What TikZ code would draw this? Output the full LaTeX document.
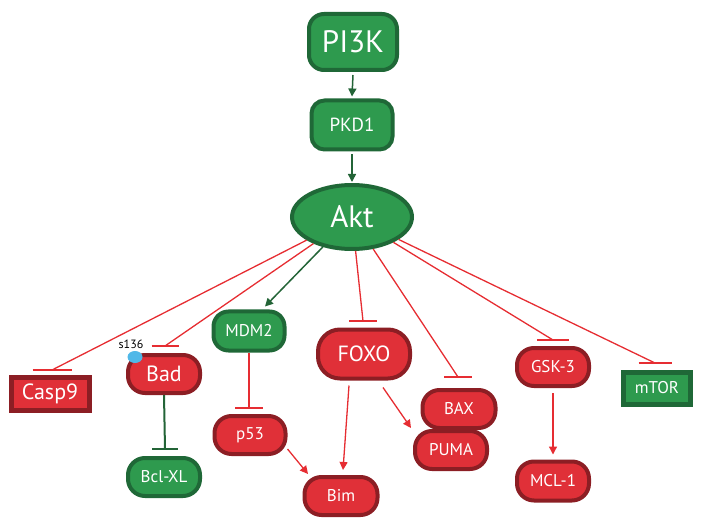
\documentclass[tikz,border=0pt]{standalone}
\usepackage{fontspec}
\setmainfont{PT Sans}
\usetikzlibrary{shapes.geometric,arrows.meta}
\definecolor{gfill}{RGB}{46,154,78}
\definecolor{gdraw}{RGB}{31,104,55}
\definecolor{rfill}{RGB}{224,48,56}
\definecolor{rdraw}{RGB}{140,30,36}
\definecolor{rline}{RGB}{230,45,50}
\definecolor{gline}{RGB}{35,100,55}
\definecolor{bdot}{RGB}{80,184,232}
\tikzset{
  base/.style={line width=4pt, text=white, inner sep=0pt, align=center},
  gbox/.style={base, fill=gfill, draw=gdraw, rounded corners=15pt},
  rbox/.style={base, fill=rfill, draw=rdraw, rounded corners=17pt},
  grect/.style={base, fill=gfill, draw=gdraw, rectangle, line width=5pt},
  rrect/.style={base, fill=rfill, draw=rdraw, rectangle, line width=5pt},
  sz/.style n args={2}{minimum width=#1, minimum height=#2},
  fbig/.style={font=\fontsize{31}{31}\selectfont},
  fmid/.style={font=\fontsize{22}{22}\selectfont},
  fsm/.style={font=\fontsize{17}{17}\selectfont},
  ract/.style={draw=rline, line width=1.3pt, -{Triangle[length=8pt,width=8pt]}},
  gact/.style={draw=gline, line width=1.5pt, -{Triangle[length=8pt,width=8pt]}},
  rinh/.style={draw=rline, line width=1.3pt},
  ginh/.style={draw=gline, line width=2pt},
  rbar/.style={draw=rline, line width=2.2pt},
  gbar/.style={draw=gline, line width=2.6pt},
}
\begin{document}
\begin{tikzpicture}[x=1pt,y=-1pt]
\useasboundingbox (0,0) rectangle (704,529);
% nodes
\node[gbox, sz={88pt}{56pt}, fbig] (PI3K) at (353,42) {PI3K};
\node[gbox, sz={81pt}{49pt}, font=\fontsize{19}{19}\selectfont, rounded corners=13pt] (PKD1) at (352,125) {PKD1};
\node[base, ellipse, fill=gfill, draw=gdraw, sz={120pt}{64pt}, fbig] (Akt) at (352,217) {Akt};
\node[rrect, sz={78pt}{33pt}, fmid] (Casp9) at (50,394) {Casp9};
\node[rbox, sz={72pt}{38pt}, fmid] (Bad) at (164,374) {Bad};
\node[gbox, sz={72pt}{38pt}, fsm, rounded corners=17pt] (BclXL) at (164,477) {Bcl-XL};
\node[gbox, sz={71pt}{39pt}, fsm] (MDM2) at (249,331) {MDM2};
\node[rbox, sz={71pt}{38pt}, fsm] (p53) at (250,435) {p53};
\node[rbox, sz={92pt}{49pt}, fmid, rounded corners=22pt] (FOXO) at (364,354) {FOXO};
\node[rbox, sz={73pt}{38pt}, fsm] (Bim) at (341,496) {Bim};
\node[rbox, sz={73pt}{38pt}, fsm] (BAX) at (459,409) {BAX};
\node[rbox, sz={72pt}{38pt}, fsm] (PUMA) at (451,450) {PUMA};
\node[rbox, sz={72pt}{38pt}, fsm] (GSK3) at (553,367) {GSK-3};
\node[rbox, sz={72pt}{39pt}, fsm] (MCL1) at (553,481) {MCL-1};
\node[grect, sz={67pt}{32pt}, fsm] (mTOR) at (657,388) {mTOR};
% phospho site
\node[fill=bdot, ellipse, inner sep=0pt, minimum width=15pt, minimum height=12pt] (site) at (135,357) {};
\node[font=\fontsize{12}{12}\selectfont, text=black, inner sep=0pt] (s136) at (131,344) {s136};
% bar coordinates
\coordinate (casp9bar) at (52,370);
\coordinate (badbar) at (165,346);
\coordinate (bclbar) at (165,449);
\coordinate (p53bar) at (249,408);
\coordinate (foxobar) at (363,321);
\coordinate (baxbar) at (458,377);
\coordinate (gskbar) at (553,340);
\coordinate (mtorbar) at (655,363);
% activation arrows
\draw[gact] ([shift={(0,3)}]PI3K.south) -- ([shift={(0,-2)}]PKD1.north);
\draw[gact] ([shift={(0,3)}]PKD1.south) -- ([shift={(0,-1)}]Akt.north);
\draw[gact] (Akt) -- ([shift={(16,-3)}]MDM2.north);
\draw[ract] ([shift={(-15,5)}]FOXO.south) -- ([shift={(2,-5)}]Bim.north);
\draw[ract] ([shift={(19,7)}]FOXO.south) -- ([shift={(-2,-1)}]PUMA.north west);
\draw[ract] ([shift={(0,14)}]p53.east) -- ([shift={(-33,-1)}]Bim.north);
\draw[ract] ([shift={(0,5)}]GSK3.south) -- ([shift={(0,-5)}]MCL1.north);
% inhibition lines
\draw[rinh] (Akt) -- (casp9bar);
\draw[rinh] (Akt) -- (badbar);
\draw[rinh] (Akt) -- (foxobar);
\draw[rinh] (Akt) -- (baxbar);
\draw[rinh] (Akt) -- (gskbar);
\draw[rinh] (Akt) -- (mtorbar);
\draw[rinh] (MDM2.south) -- (p53bar);
\draw[ginh] (Bad.south) -- (bclbar);
% bars
\draw[rbar] ([shift={(-19.5,0)}]casp9bar) -- ([shift={(19.5,0)}]casp9bar);
\draw[rbar] ([shift={(-13.5,0)}]badbar) -- ([shift={(13.5,0)}]badbar);
\draw[gbar] ([shift={(-13,0)}]bclbar) -- ([shift={(13,0)}]bclbar);
\draw[rbar] ([shift={(-14,0)}]p53bar) -- ([shift={(14,0)}]p53bar);
\draw[rbar] ([shift={(-14,0)}]foxobar) -- ([shift={(14,0)}]foxobar);
\draw[rbar] ([shift={(-14,0)}]baxbar) -- ([shift={(14,0)}]baxbar);
\draw[rbar] ([shift={(-16,0)}]gskbar) -- ([shift={(16,0)}]gskbar);
\draw[rbar] ([shift={(-16.5,0)}]mtorbar) -- ([shift={(16.5,0)}]mtorbar);
\end{tikzpicture}
\end{document}
